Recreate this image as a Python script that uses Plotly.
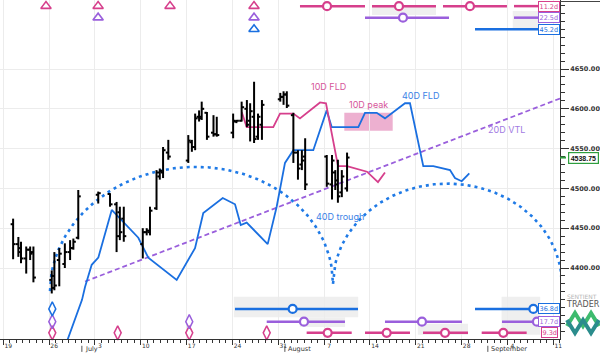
import numpy as np
import pandas as pd
import plotly.graph_objects as go

BASE = pd.Timestamp("2023-06-19")


def D(d):
    return (BASE + pd.to_timedelta(d, unit="D")).strftime("%Y-%m-%d %H:%M:%S")


# ---------------- price bars (day offset from 19 Jun 2023) ----------------
bar_day = [1.5, 2.3, 2.7, 3.5, 4.1, 4.6, 7.4, 7.8, 8.55, 9.4, 10.2, 10.7, 11.45, 14.5, 16.3, 17.3,
           17.8, 18.4, 21.3, 21.9, 22.4, 23.4, 23.9, 24.4, 25.2, 28.25, 28.8, 29.3, 29.9, 30.3,
           31.1, 32.1, 32.6, 35.1, 35.6, 36.4, 37.2, 37.7, 38.3, 38.9, 39.5, 42.3, 42.8, 43.3,
           44.3, 45.0, 45.6, 46.1, 49.4, 50.2, 50.7, 51.1, 51.7, 52.5]
bar_open = [4455, 4430, 4425, 4412, 4423, 4420, 4385, 4375, 4410, 4405, 4420, 4425, 4438, 4492,
            4493, 4480, 4470, 4462, 4430, 4445, 4445, 4475, 4515, 4520, 4545, 4535, 4558, 4552,
            4590, 4590, 4595, 4570, 4568, 4570, 4584, 4585, 4600, 4585, 4590, 4565, 4580, 4612,
            4615, 4618, 4592, 4545, 4530, 4540, 4540, 4505, 4520, 4505, 4495, 4500]
bar_high = [4462, 4439, 4433, 4427, 4427, 4427, 4397, 4420, 4425, 4431, 4435, 4437, 4498, 4496,
            4494, 4483, 4477, 4477, 4450, 4450, 4477, 4523, 4525, 4552, 4561, 4567, 4561, 4594,
            4598, 4609, 4596, 4592, 4590, 4594, 4586, 4609, 4611, 4607, 4634, 4594, 4611, 4620,
            4622, 4622, 4595, 4548, 4548, 4563, 4542, 4542, 4523, 4536, 4523, 4545]
bar_low = [4411, 4414, 4406, 4393, 4410, 4382, 4368, 4372, 4377, 4400, 4410, 4423, 4436, 4481,
           4477, 4420, 4435, 4433, 4412, 4441, 4441, 4473, 4511, 4513, 4536, 4532, 4546, 4548,
           4584, 4586, 4561, 4565, 4565, 4563, 4582, 4584, 4577, 4559, 4557, 4561, 4561, 4609,
           4605, 4601, 4532, 4511, 4523, 4498, 4502, 4486, 4498, 4482, 4489, 4496]
bar_close = [4430, 4420, 4412, 4423, 4418, 4388, 4390, 4378, 4418, 4420, 4425, 4433, 4490, 4494,
             4480, 4440, 4445, 4440, 4445, 4447, 4472, 4520, 4522, 4548, 4540, 4560, 4552, 4588,
             4588, 4600, 4565, 4568, 4567, 4585, 4585, 4602, 4580, 4597, 4562, 4590, 4605, 4615,
             4618, 4604, 4545, 4525, 4535, 4505, 4506, 4535, 4510, 4490, 4515, 4538.75]
last_price = 4538.75

# price axis ticks
price_ticks = [4400, 4450, 4500, 4550, 4600, 4650]

# ---------------- 10D FLD ----------------
fld10_day = [36.41, 37.17, 41.23, 42.26, 44.29, 45.31, 48.37, 49.28, 51.12, 52.49, 55.54, 57.22, 58.29]
fld10_val = [4596, 4577, 4577, 4594, 4594, 4588, 4608, 4607, 4528, 4528, 4521, 4508, 4520]

# ---------------- 40D FLD ----------------
fld40_day = [9.6, 12.02, 12.48, 13.5, 14.51, 16.56, 20.62, 22.14, 26.48, 29.28, 30.54, 33.51, 35.39,
             36.26, 37.17, 40.38, 41.75, 43.02, 44.29, 47.34, 49.39, 50.15, 54.22, 55.24, 57.03,
             58.29, 61.35, 62.11, 64.14, 65.67, 68.22, 68.98, 70.01, 71.17]
fld40_val = [4305, 4360, 4376, 4404, 4413, 4473, 4438, 4413, 4385, 4425, 4469, 4488, 4480, 4454,
             4457, 4430, 4477, 4532, 4548, 4548, 4598, 4577, 4577, 4595, 4595, 4588, 4607, 4607,
             4528, 4528, 4523, 4513, 4509, 4519]

# ---------------- 20D VTL ----------------
vtl_day = [12.48, 85.02]
vtl_val = [4383, 4613]

# ---------------- 40D cycle arcs ----------------
trough_day = [7.13, 50.35, 85.3]
trough_val = [4371, 4380, 4380]
arc_peak_val = [4527, 4506]

# 10D peak zone
peak_zone_day = [52.08, 59.47]
peak_zone_val = [4572.5, 4595]

# ---------------- cycle markers ----------------
top_tri_day = {"10": [6.52, 14.48, 25.46, 38.29], "20": [14.48, 38.29], "40": [38.29]}
bot_dia_day = {"10": [7.48, 17.47, 28.4, 40.23], "20": [7.48, 28.4], "40": [7.48]}

# projection segments (start, end, circle) in days
top_seg = {
    "10": [(45.31, 55.24, 49.44), (56.31, 66.08, 60.43), (67.15, 76.92, 71.27), (77.99, 82.0, None)],
    "20": [(55.24, 68.07, 61.04), (77.99, 82.0, None)],
    "40": [(72.04, 82.0, None)],
}
bot_seg = {
    "40": [(35.38, 54.17, 44.19), (72.04, 81.0, 80.95)],
    "20": [(40.23, 52.18, 45.92), (58.29, 70.05, 63.94), (76.16, 81.6, 81.5)],
    "10": [(46.33, 53.21, 49.54), (55.24, 62.11, 58.55), (64.1, 70.97, 67.46), (73.06, 79.93, 76.36)],
}
period_label = {"top": {"10": "11.2d", "20": "22.5d", "40": "45.2d"},
                "bot": {"40": "36.8d", "20": "17.7d", "10": "9.3d"}}

PINK = "#d63f8c"
PURPLE = "#9a5fdc"
BLUE = "#1a6fe0"
row_top = {"10": 4729, "20": 4714.5, "40": 4700}
row_bot = {"40": 4348.6, "20": 4332.6, "10": 4318.6}
col = {"10": PINK, "20": PURPLE, "40": BLUE}

Y0, Y1 = 4310.8, 4736.7
X0, X1 = -0.504, 85.02

fig = go.Figure()

# gray projection bands
band_list = [((56.31, 66.08), (4718, 4728)), ((77.8, 82.0), (4700, 4723)),
             ((35.2, 54.2), (4338, 4364)), ((45.3, 52.2), (4326, 4338)),
             ((63.3, 70.97), (4316, 4330)), ((76.1, 82.0), (4316, 4364))]
for (dx0, dx1), (vy0, vy1) in band_list:
    fig.add_shape(type="rect", x0=D(dx0), x1=D(dx1), y0=vy0, y1=vy1, fillcolor="#efefef",
                  line_width=0, layer="below")

# 10D peak zone
fig.add_shape(type="rect", x0=D(peak_zone_day[0]), x1=D(peak_zone_day[1]),
              y0=peak_zone_val[0], y1=peak_zone_val[1], fillcolor="rgba(214,80,150,0.45)",
              line_width=0, layer="below")

# arcs
for i in range(2):
    t0, t1 = trough_day[i], trough_day[i + 1]
    b0, b1 = trough_val[i], trough_val[i + 1]
    d = np.linspace(t0, t1, 200)
    base = b0 + (b1 - b0) * (d - t0) / (t1 - t0)
    c, hw = (t0 + t1) / 2, (t1 - t0) / 2
    amp = arc_peak_val[i] - (b0 + b1) / 2
    v = base + amp * np.sqrt(np.clip(1 - ((d - c) / hw) ** 2, 0, None))
    fig.add_trace(go.Scatter(x=[D(z) for z in d], y=v, mode="lines",
                             line=dict(color="#1f7ae6", width=2.6, dash="3px,4px"),
                             hoverinfo="skip"))

# VTL
fig.add_trace(go.Scatter(x=[D(z) for z in vtl_day], y=vtl_val, mode="lines",
                         line=dict(color=PURPLE, width=1.8, dash="5px,3px")))

# FLDs
fig.add_trace(go.Scatter(x=[D(z) for z in fld40_day], y=fld40_val, mode="lines",
                         line=dict(color=BLUE, width=1.8)))
fig.add_trace(go.Scatter(x=[D(z) for z in fld10_day], y=fld10_val, mode="lines",
                         line=dict(color=PINK, width=1.8)))

# OHLC bars
xs, ys = [], []
w = 0.38
for d, o, h, l, cl in zip(bar_day, bar_open, bar_high, bar_low, bar_close):
    xs += [D(d), D(d), None, D(d - w), D(d), None, D(d), D(d + w), None]
    ys += [l, h, None, o, o, None, cl, cl, None]
fig.add_trace(go.Scatter(x=xs, y=ys, mode="lines", line=dict(color="black", width=2),
                         connectgaps=False))

# top triangles
for k in ["10", "20", "40"]:
    fig.add_trace(go.Scatter(x=[D(z) for z in top_tri_day[k]], y=[row_top[k]] * len(top_tri_day[k]),
                             mode="markers", cliponaxis=False,
                             marker=dict(symbol="triangle-up-open", size=9, color=col[k],
                                         line=dict(width=1.6, color=col[k]))))
# bottom diamonds
for k in ["10", "20", "40"]:
    fig.add_trace(go.Scatter(x=[D(z) for z in bot_dia_day[k]], y=[row_bot[k]] * len(bot_dia_day[k]),
                             mode="markers", cliponaxis=False,
                             marker=dict(symbol="diamond-tall-open", size=10, color=col[k],
                                         line=dict(width=1.5, color=col[k]))))

# projection segments
for rows, segs in [(row_top, top_seg), (row_bot, bot_seg)]:
    for k, lst in segs.items():
        for (s0, s1, cc) in lst:
            fig.add_trace(go.Scatter(x=[D(s0), D(s1)], y=[rows[k]] * 2, mode="lines",
                                     line=dict(color=col[k], width=2.5)))
            if cc is not None:
                fig.add_trace(go.Scatter(x=[D(cc)], y=[rows[k]], mode="markers", cliponaxis=False,
                                         marker=dict(symbol="circle", size=8, color="white",
                                                     line=dict(width=2.2, color=col[k]))))

# period labels
for pos, rows in [("top", row_top), ("bot", row_bot)]:
    for k, txt in period_label[pos].items():
        fig.add_annotation(x=D(83.4), y=rows[k], text=txt, showarrow=False,
                           font=dict(size=6.5, color=col[k], family="DejaVu Sans"),
                           bgcolor="white", bordercolor=col[k], borderwidth=1, borderpad=0.5,
                           xanchor="center", yanchor="middle")

# chart labels
labels = [("10D FLD", 49.7, 4628, "#d6559a"), ("10D peak", 55.8, 4605, "#d6559a"),
          ("40D FLD", 63.7, 4616.5, "#3b82e6"), ("20D VTL", 76.9, 4573.5, "#a27ae2"),
          ("40D trough", 51.4, 4464.5, "#3b82e6")]
for t, dd, vv, cc in labels:
    fig.add_annotation(x=D(dd), y=vv, text=t, showarrow=False,
                       font=dict(size=9, color=cc, family="Inter"))

# current price label
fig.add_annotation(xref="paper", x=568 / 560, y=last_price, text="<b>4538.75</b>", showarrow=False,
                   xanchor="left", yanchor="middle",
                   font=dict(size=7, color="#111", family="Liberation Sans"),
                   bgcolor="white", bordercolor="#2e9e3e", borderwidth=1.2, borderpad=1.5)
fig.add_shape(type="line", xref="paper", x0=1.0, x1=1.0 + 6 / 560, y0=last_price, y1=last_price,
              line=dict(color="#2e9e3e", width=2))

# month labels
for md, mt in [(12, "July"), (43, "August"), (74, "September")]:
    fig.add_annotation(x=D(md), xanchor="left", yref="paper", y=-0.0285, yanchor="middle",
                       text=mt, showarrow=False, xshift=1.5,
                       font=dict(size=6.5, color="#333", family="DejaVu Sans"))
    fig.add_shape(type="line", x0=D(md), x1=D(md), yref="paper", y0=-0.02, y1=-0.038,
                  line=dict(color="#555", width=1))


def px(xp, yp):
    return xp / 560, (339 - yp) / 339


# top border of axis area
fig.add_shape(type="line", xref="paper", yref="paper", x0=1.0, x1=600 / 560, y0=px(0, 1.5)[1],
              y1=px(0, 1.5)[1], line=dict(color="#444", width=1))

# logo
fig.add_annotation(xref="paper", yref="paper", x=px(565, 0)[0], y=px(0, 296)[1], xanchor="left",
                   yanchor="middle", text="SENTIENT", showarrow=False,
                   font=dict(size=6, color="#b5b5b5", family="DejaVu Sans"))
fig.add_annotation(xref="paper", yref="paper", x=px(564, 0)[0], y=px(0, 304)[1], xanchor="left",
                   yanchor="middle", text="TRADER", showarrow=False,
                   font=dict(size=8, color="#555", family="DejaVu Sans"))
logo_a = [(567, 326), (575, 313), (583, 326), (591, 313), (599, 326)]
logo_b = [(567, 320), (575, 333), (583, 320), (591, 333), (599, 320)]
for pts, cc in [(logo_a, "#3dbb6e"), (logo_b, "#2b8c8c")]:
    path = "M " + " L ".join(f"{px(a, b)[0]:.4f} {px(a, b)[1]:.4f}" for a, b in pts)
    fig.add_shape(type="path", xref="paper", yref="paper", path=path,
                  line=dict(color=cc, width=4))

fig.update_layout(
    width=600, height=353, margin=dict(l=0, r=40, t=0, b=14),
    plot_bgcolor="white", paper_bgcolor="white", showlegend=False,
    xaxis=dict(type="date", range=[D(X0), D(X1)], tick0=D(0), dtick=7 * 86400000,
               tickformat="%-d", ticks="outside", ticklen=5, tickcolor="#333", tickwidth=1,
               showline=True, linecolor="#333", linewidth=1, showgrid=True, gridcolor="#ececec",
               zeroline=False, tickfont=dict(size=6, color="#333", family="DejaVu Sans"),
               ticklabelshift=5, ticklabelstandoff=-4,
               minor=dict(dtick=86400000, tick0=D(0), ticks="outside", ticklen=3,
                          tickcolor="#333", showgrid=False)),
    yaxis=dict(side="right", range=[Y0, Y1], tickmode="array", tickvals=price_ticks,
               tickformat=".2f",
               ticks="outside", ticklen=8, tickcolor="#333", showline=True, linecolor="#333",
               linewidth=1, showgrid=True, gridcolor="#ececec", zeroline=False,
               tickfont=dict(size=6.5, color="#333", family="DejaVu Sans", weight="bold"),
               minor=dict(dtick=10, tick0=4400, ticks="outside", ticklen=4, tickcolor="#333",
                          showgrid=False)),
)

fig.write_html("out.html")
